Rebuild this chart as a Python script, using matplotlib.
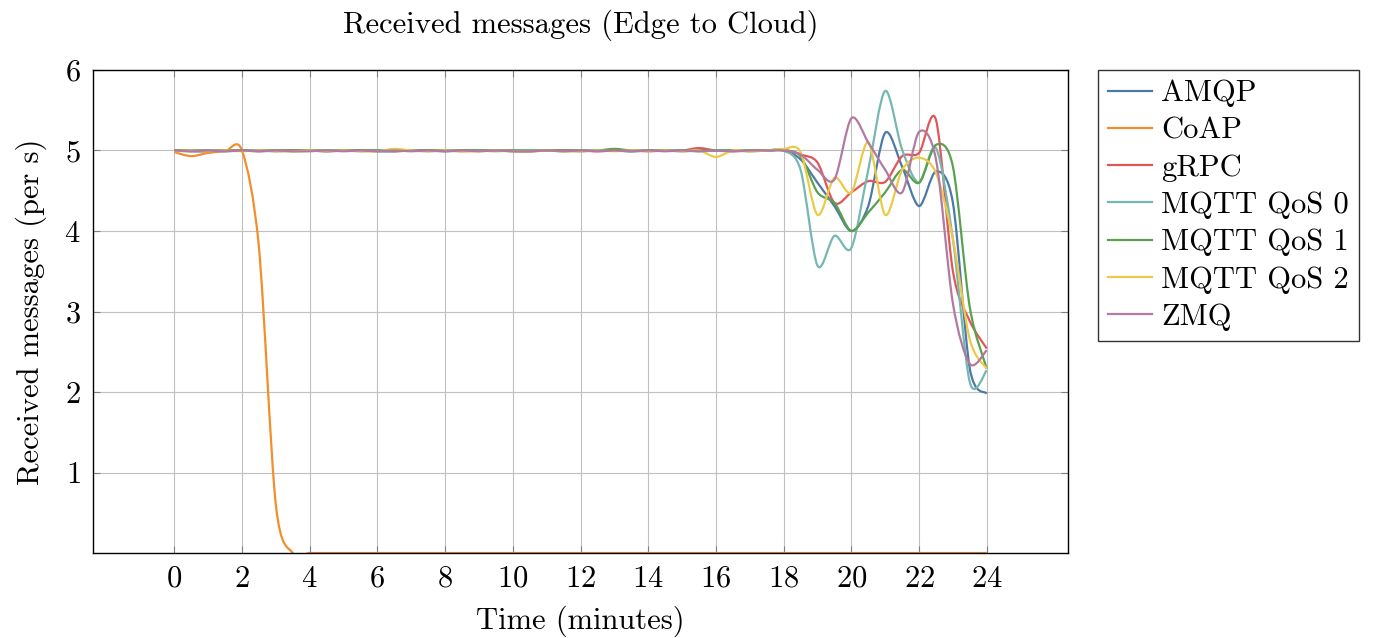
#!/usr/bin/env python3
"""Received messages per second for each protocol, edge to cloud."""

import matplotlib
matplotlib.use("Agg")
import matplotlib.pyplot as plt
import numpy as np
from matplotlib.lines import Line2D
from matplotlib.patches import PathPatch
from matplotlib.path import Path

plt.rcParams["font.family"] = ["cmr10", "DejaVu Serif"]
plt.rcParams["axes.formatter.use_mathtext"] = True

# sampled every 30 s
minutes = np.arange(0, 24.5, 0.5)

protocols = ["AMQP", "CoAP", "gRPC", "MQTT QoS 0", "MQTT QoS 1", "MQTT QoS 2", "ZMQ"]
colors = ["#4e79a7", "#f28e2b", "#e15759", "#76b7b2", "#59a14f", "#edc948", "#b07aa1"]

amqp = [
    5.00, 4.99, 4.99, 5.00, 5.00, 5.00, 4.99, 5.00, 5.00, 4.99, 5.00, 5.00,
    4.99, 4.99, 5.00, 5.00, 4.99, 5.00, 5.00, 5.00, 4.99, 4.99, 5.00, 5.00,
    4.99, 5.00, 5.00, 4.99, 5.00, 5.00, 4.99, 5.00, 5.00, 5.00, 4.99, 5.00,
    5.00, 4.89, 4.60, 4.31, 4.00, 4.31, 5.22, 4.80, 4.31, 4.74, 4.35, 2.29, 1.98,
]
coap = [
    4.98, 4.93, 4.97, 4.99, 5.00, 3.80, 0.60, 0.00, 0.00, 0.00, 0.00, 0.00,
    0.00, 0.00, 0.00, 0.00, 0.00, 0.00, 0.00, 0.00, 0.00, 0.00, 0.00, 0.00,
    0.00, 0.00, 0.00, 0.00, 0.00, 0.00, 0.00, 0.00, 0.00, 0.00, 0.00, 0.00,
    0.00, 0.00, 0.00, 0.00, 0.00, 0.00, 0.00, 0.00, 0.00, 0.00, 0.00, 0.00, 0.00,
]
grpc = [
    5.00, 5.00, 4.99, 5.00, 5.00, 4.99, 5.00, 5.00, 5.00, 4.99, 5.00, 5.00,
    5.00, 4.99, 5.00, 5.00, 5.00, 4.99, 5.00, 5.00, 5.00, 4.99, 5.00, 5.00,
    5.00, 4.99, 5.00, 5.00, 4.99, 5.00, 5.00, 5.03, 5.00, 4.99, 5.00, 5.00,
    5.01, 4.95, 4.85, 4.35, 4.48, 4.62, 4.61, 4.93, 4.97, 5.38, 3.50, 2.88, 2.54,
]
mqtt_qos0 = [
    5.00, 5.00, 5.00, 4.99, 5.00, 5.00, 5.00, 4.99, 5.00, 5.00, 5.00, 4.99,
    5.00, 5.00, 5.00, 4.99, 5.00, 5.00, 5.00, 4.99, 5.00, 5.00, 5.00, 4.99,
    5.00, 5.00, 5.00, 4.99, 5.00, 5.00, 5.00, 4.99, 5.00, 5.00, 5.00, 5.00,
    5.00, 4.76, 3.57, 3.94, 3.79, 4.76, 5.74, 5.01, 4.60, 5.03, 3.90, 2.12, 2.27,
]
mqtt_qos1 = [
    5.00, 5.00, 5.00, 5.00, 5.00, 5.00, 5.00, 5.00, 5.00, 5.00, 5.00, 5.00,
    5.00, 5.00, 5.00, 5.00, 5.00, 5.00, 5.00, 5.00, 5.00, 5.00, 5.00, 5.00,
    5.00, 5.00, 5.02, 5.00, 5.00, 5.00, 5.00, 5.00, 5.00, 5.00, 5.00, 5.00,
    5.00, 4.93, 4.48, 4.35, 4.00, 4.23, 4.48, 4.76, 4.60, 5.07, 4.80, 3.05, 2.29,
]
mqtt_qos2 = [
    4.99, 5.00, 4.99, 5.00, 4.99, 5.00, 4.99, 4.99, 5.00, 4.99, 5.00, 4.99,
    4.99, 5.02, 5.00, 4.99, 5.00, 4.99, 4.99, 5.00, 4.99, 4.99, 5.00, 4.99,
    4.99, 5.00, 4.99, 5.00, 4.99, 5.00, 4.99, 5.00, 4.92, 5.00, 4.99, 5.00,
    5.02, 4.98, 4.20, 4.66, 4.48, 5.10, 4.20, 4.76, 4.91, 4.72, 3.90, 2.65, 2.29,
]
zmq = [
    5.00, 4.99, 5.00, 4.99, 5.00, 4.99, 5.00, 4.99, 4.99, 5.00, 4.99, 5.00,
    4.99, 5.00, 4.99, 5.00, 4.99, 5.00, 4.99, 5.00, 4.99, 4.99, 5.00, 4.99,
    5.00, 4.99, 5.00, 4.99, 5.00, 4.99, 5.00, 4.99, 5.00, 4.99, 5.00, 5.00,
    5.00, 4.95, 4.76, 4.64, 5.40, 5.10, 4.76, 4.48, 5.23, 4.89, 3.10, 2.35, 2.52,
]
series = [amqp, coap, grpc, mqtt_qos0, mqtt_qos1, mqtt_qos2, zmq]


def smooth_path(x, y, tension=0.15):
    """Cubic Bezier path through the points, like pgfplots' smooth option."""
    pts = np.column_stack([x, y])
    padded = np.vstack([pts[:1], pts, pts[-1:]])
    verts = [pts[0]]
    codes = [Path.MOVETO]
    for i in range(len(pts) - 1):
        before, p0, p1, after = padded[i], padded[i + 1], padded[i + 2], padded[i + 3]
        verts += [p0 + tension * (p1 - before), p1 - tension * (after - p0), p1]
        codes += [Path.CURVE4] * 3
    return Path(verts, codes)


fig = plt.figure(figsize=(13.74, 6.38), dpi=100)
ax = fig.add_axes([0.0677, 0.1332, 0.7096, 0.7571])

handles = []
for name, values, color in zip(protocols, series, colors):
    ax.add_patch(PathPatch(smooth_path(minutes, values), fill=False,
                           edgecolor=color, linewidth=1.6, joinstyle="round"))
    handles.append(Line2D([], [], color=color, linewidth=1.6, label=name))

ax.set_xlim(-2.4, 26.4)
ax.set_ylim(0, 6)
ax.set_xticks(range(0, 25, 2))
ax.set_yticks(range(1, 7))
ax.grid(True, color="#c0c0c0", linewidth=0.8)
ax.set_axisbelow(True)
ax.tick_params(direction="in", length=5, width=0.8, color="#808080",
               top=True, right=True, labelsize=22, pad=9)
for spine in ax.spines.values():
    spine.set_linewidth(1.0)

ax.set_title("Received messages (Edge to Cloud)", fontsize=22, pad=27)
ax.set_xlabel("Time (minutes)", fontsize=22, labelpad=9)
ax.set_ylabel("Received messages (per s)", fontsize=22, labelpad=12)

legend = fig.legend(handles=handles, loc="upper left", bbox_to_anchor=(0.799, 0.8903),
                    fontsize=22, frameon=True, fancybox=False, edgecolor="black",
                    handlelength=1.45, handletextpad=0.3, labelspacing=0.32,
                    borderpad=0.32, borderaxespad=0)
legend.get_frame().set_linewidth(1.0)

fig.savefig("out.png", dpi=100)
